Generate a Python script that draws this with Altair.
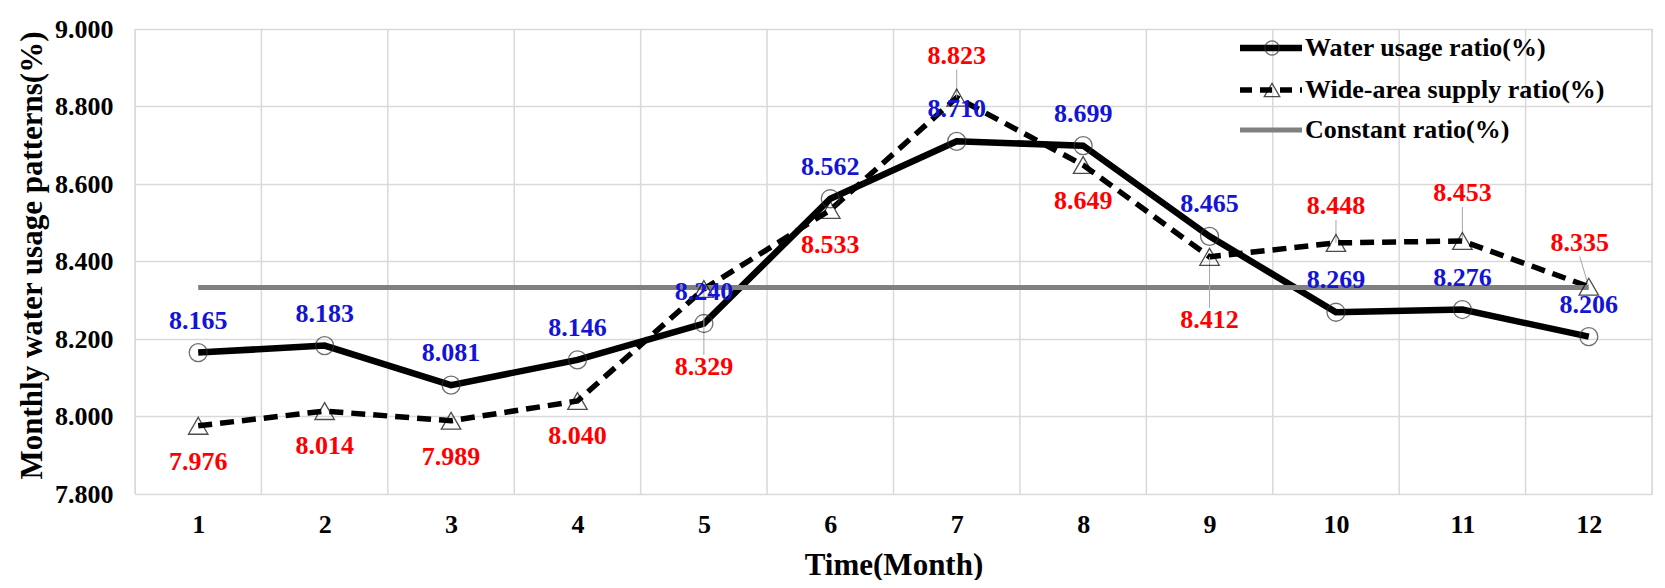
import altair as alt
import pandas as pd

# ---------------- data ----------------
months = list(range(1, 13))
water_usage = [8.165, 8.183, 8.081, 8.146, 8.240, 8.562, 8.710, 8.699, 8.465, 8.269, 8.276, 8.206]
wide_area = [7.976, 8.014, 7.989, 8.040, 8.329, 8.533, 8.823, 8.649, 8.412, 8.448, 8.453, 8.335]
constant = [8.333] * 12
series_names = ["Water usage ratio(%)", "Wide-area supply ratio(%)", "Constant ratio(%)"]
y_ticks = [7.8, 8.0, 8.2, 8.4, 8.6, 8.8, 9.0]
y_domain = [7.8, 9.0]
x_domain = [0.5, 12.5]

# label placement (pixels, style only)
water_label_dy = [-32] * 12
wide_label_dy = [36, 35, 36, 35, 78, 35, -42, 36, 63, -37, -48, -44]
wide_label_dx = [0] * 11 + [-9]
wide_leader = [False, False, False, False, True, False, True, False, True, True, True, True]

# ---------------- layout ----------------
W, H = 1517, 465
PX_Y = H / (y_domain[1] - y_domain[0])
PX_X = W / (x_domain[1] - x_domain[0])
FONT = "Liberation Serif"
BLUE = "#1414d4"
RED = "#ff0000"
GRID = "#d9d9d9"

x_axis = alt.Axis(values=months, format="d", grid=False, ticks=False, domain=False,
                  labelFont=FONT, labelFontSize=26, labelFontWeight="bold", labelColor="black",
                  labelPadding=17, title="Time(Month)", titleFont=FONT, titleFontSize=31,
                  titleFontWeight="bold", titleColor="black", titleY=71, titleBaseline="middle")
y_axis = alt.Axis(values=y_ticks, format=".3f", grid=True, gridColor=GRID, gridWidth=1.5,
                  ticks=False, domain=False, labelFont=FONT, labelFontSize=26,
                  labelFontWeight="bold", labelColor="black", labelPadding=22,
                  title="Monthly water usage patterns(%)", titleFont=FONT, titleFontSize=31,
                  titleFontWeight="bold", titleColor="black", titleAngle=270,
                  titleX=-103, titleY=226, titleBaseline="middle", titleAlign="center")

def X(f):
    return alt.X(f, type="quantitative", scale=alt.Scale(domain=x_domain, nice=False, zero=False), axis=x_axis)

def Y(f):
    return alt.Y(f, type="quantitative", scale=alt.Scale(domain=y_domain, nice=False, zero=False), axis=y_axis)

# ---------------- tables ----------------
water_df = pd.DataFrame({"month": months, "value": water_usage,
                         "label": [f"{v:.3f}" for v in water_usage]})
water_df["ly"] = [v - d / PX_Y for v, d in zip(water_usage, water_label_dy)]

wide_df = pd.DataFrame({"month": months, "value": wide_area,
                        "label": [f"{v:.3f}" for v in wide_area]})
wide_df["ly"] = [v - d / PX_Y for v, d in zip(wide_area, wide_label_dy)]
wide_df["lx"] = [m + d / PX_X for m, d in zip(months, wide_label_dx)]
wide_df["leader_end"] = [v - (d - (12 if d > 0 else -14)) / PX_Y for v, d in zip(wide_area, wide_label_dy)]
wide_df["leader"] = wide_leader
leader_df = wide_df[wide_df["leader"]].copy()

const_df = pd.DataFrame({"month": months, "value": constant})
bounds_df = pd.DataFrame({"b": [m - 0.5 for m in months] + [months[-1] + 0.5]})

# ---------------- layers ----------------
vgrid = alt.Chart(bounds_df).mark_rule(color=GRID, strokeWidth=1.5).encode(x=X("b"))

water_line = alt.Chart(water_df).mark_line(color="black", strokeWidth=6.5, strokeJoin="miter").encode(
    x=X("month"), y=Y("value"))
wide_line = alt.Chart(wide_df).mark_line(color="black", strokeWidth=5.5, strokeDash=[14, 8]).encode(
    x=X("month"), y=Y("value"))
const_line = alt.Chart(const_df).mark_line(color="#808080", strokeWidth=5).encode(
    x=X("month"), y=Y("value"))

leaders = alt.Chart(leader_df).mark_rule(color="#a6a6a6", strokeWidth=1).encode(
    x=X("month"), x2="lx", y=Y("value"), y2="leader_end")

water_pts = alt.Chart(water_df).mark_point(shape="circle", size=324, filled=False,
                                           color="#333333", strokeWidth=1.3).encode(
    x=X("month"), y=Y("value"))
wide_pts = alt.Chart(wide_df).mark_point(shape="triangle-up", size=380, filled=False,
                                         color="black", strokeWidth=1.3).encode(
    x=X("month"), y=Y("value"))

water_lbl = alt.Chart(water_df).mark_text(font=FONT, fontSize=26, fontWeight="bold", color=BLUE,
                                          baseline="middle", align="center").encode(
    x=X("month"), y=Y("ly"), text="label:N")
wide_lbl = alt.Chart(wide_df).mark_text(font=FONT, fontSize=26, fontWeight="bold", color=RED,
                                        baseline="middle", align="center").encode(
    x=X("lx"), y=Y("ly"), text="label:N")

# ---------------- legend (inside plot, top-right) ----------------
leg_rows = [19, 61, 101]
lx0, lx1, lmid, ltext = 1105, 1167, 1137, 1170

leg_layers = []
for i, name in enumerate(series_names):
    d = pd.DataFrame({"name": [name]})
    yv = leg_rows[i]
    if i == 0:
        leg_layers.append(alt.Chart(d).mark_rule(color="black", strokeWidth=6.5).encode(
            x=alt.value(lx0), x2=alt.value(lx1), y=alt.value(yv)))
        leg_layers.append(alt.Chart(d).mark_point(shape="circle", size=200, filled=False,
                                                  color="#333333", strokeWidth=1.3).encode(
            x=alt.value(lmid), y=alt.value(yv)))
    elif i == 1:
        leg_layers.append(alt.Chart(d).mark_rule(color="black", strokeWidth=5.5, strokeDash=[12, 8]).encode(
            x=alt.value(lx0), x2=alt.value(lx1), y=alt.value(yv)))
        leg_layers.append(alt.Chart(d).mark_point(shape="triangle-up", size=240, filled=False,
                                                  color="black", strokeWidth=1.3).encode(
            x=alt.value(lmid), y=alt.value(yv)))
    else:
        leg_layers.append(alt.Chart(d).mark_rule(color="#808080", strokeWidth=5).encode(
            x=alt.value(lx0), x2=alt.value(lx1), y=alt.value(yv)))
    leg_layers.append(alt.Chart(d).mark_text(font=FONT, fontSize=26, fontWeight="bold", color="black",
                                             align="left", baseline="middle").encode(
        x=alt.value(ltext), y=alt.value(yv), text="name:N"))

chart = alt.layer(
    vgrid, water_line, wide_line, const_line, leaders, water_pts, wide_pts,
    water_lbl, wide_lbl, *leg_layers
).properties(
    width=W, height=H,
    autosize=alt.AutoSizeParams(type="none"),
    padding={"left": 127, "top": 21, "right": 4, "bottom": 86},
).configure_view(stroke=None).configure(background="white")

chart.save("out.html", embed_options={"renderer": "svg", "actions": False})
